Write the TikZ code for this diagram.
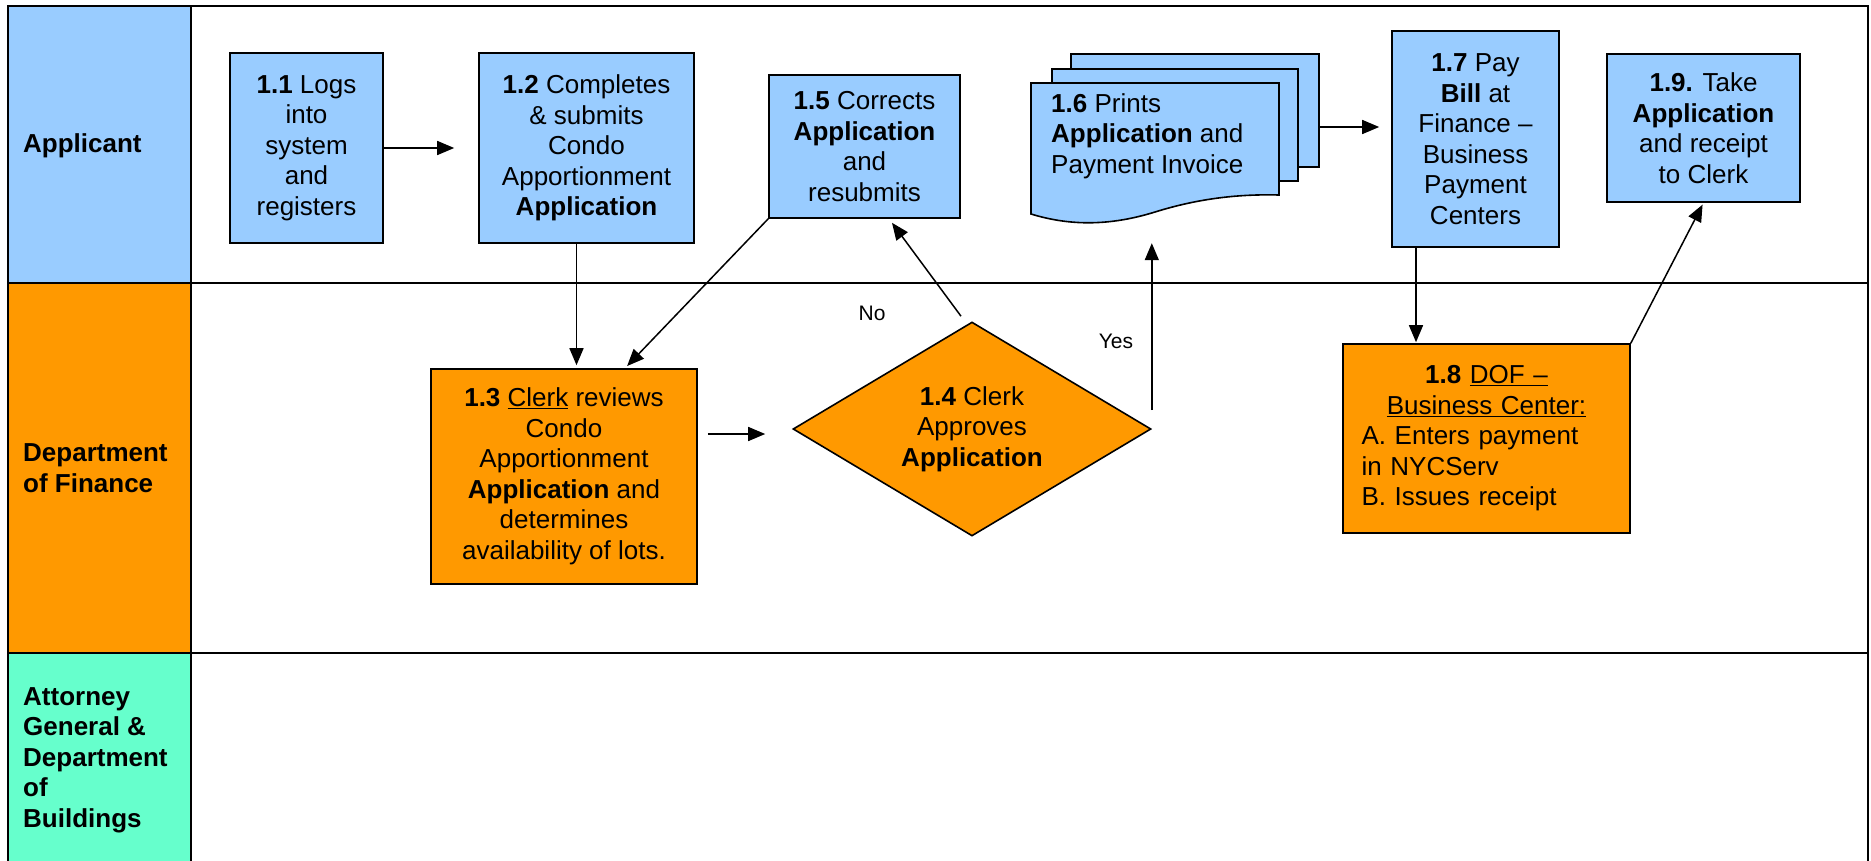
\documentclass[tikz,border=0pt]{standalone}
\usepackage{fontspec}
\setmainfont{Liberation Sans}
\usetikzlibrary{arrows.meta,shapes.geometric,calc}
\definecolor{laneblue}{HTML}{99CCFF}
\definecolor{laneorange}{HTML}{FF9900}
\definecolor{lanegreen}{HTML}{66FFCC}
\begin{document}
\begin{tikzpicture}[x=1pt,y=-1pt,
  font=\fontsize{26}{30.5}\selectfont,
  box/.style={draw=black, line width=1.6pt, fill=#1, align=center, inner sep=0pt},
  arr/.style={line width=1.5pt, -{Triangle[length=17pt,width=14pt]}},
  frame/.style={line width=2pt},
  lanelabel/.style={anchor=west, align=left, font=\fontsize{26}{30.5}\selectfont\bfseries, inner sep=0pt},
  lbl/.style={font=\fontsize{21}{25}\selectfont, inner sep=0pt}]
\useasboundingbox (0,0) rectangle (1871,860);
\clip (0,0) rectangle (1871,860);
% lanes
\fill[white] (0,0) rectangle (1871,860);
\fill[laneblue] (8,6) rectangle (191,283);
\fill[laneorange] (8,283) rectangle (191,653);
\fill[lanegreen] (8,653) rectangle (191,867);
\draw[frame] (8,6) rectangle (1868,867);
\draw[frame] (8,283) -- (1868,283);
\draw[frame] (8,653) -- (1868,653);
\draw[frame] (191,6) -- (191,867);
\node[lanelabel] (l1) at (23,146) {Applicant};
\node[lanelabel] (l2) at (23,468) {Department\\of Finance};
\node[lanelabel] (l3) at (23,760) {Attorney\\General \&\\Department\\of\\Buildings};
% process boxes
\node[box=laneblue, minimum width=153pt, minimum height=190pt] (n11) at (306.5,148) {\textbf{1.1} Logs\\into\\system\\and\\registers};
\node[box=laneblue, minimum width=215pt, minimum height=190pt] (n12) at (586.5,148) {\textbf{1.2} Completes\\\& submits\\Condo\\Apportionment\\\textbf{Application}};
\node[box=laneorange, minimum width=266pt, minimum height=215pt] (n13) at (564,476.5) {\textbf{1.3} \underline{Clerk} reviews\\Condo\\Apportionment\\\textbf{Application} and\\determines\\availability of lots.};
\node[diamond, draw=black, line width=1.6pt, fill=laneorange, minimum width=358pt, minimum height=214pt, inner sep=0pt, aspect=1.67, align=center] (n14) at (972,429) {\textbf{1.4} Clerk\\Approves\\\textbf{Application}};
\node[box=laneblue, minimum width=191pt, minimum height=143pt] (n15) at (864.5,146.5) {\textbf{1.5} Corrects\\\textbf{Application}\\and\\resubmits};
% 1.6 multi-document
\node[draw=black, line width=1.6pt, fill=laneblue, minimum width=248pt, minimum height=113pt, inner sep=0pt] (n16back) at (1195,110.5) {};
\node[draw=black, line width=1.6pt, fill=laneblue, minimum width=246pt, minimum height=112pt, inner sep=0pt] (n16mid) at (1175,125) {};
\node[inner sep=0pt, minimum width=248pt, minimum height=131pt] (n16) at (1155,148.5) {};
\draw[line width=1.6pt, fill=laneblue] (1031,83) -- (1279,83) -- (1279,195)
  .. controls (1240,194) and (1200,198) .. (1155,212)
  .. controls (1110,226) and (1070,226) .. (1031,214) -- cycle;
\node[anchor=west, align=left, inner sep=0pt] (n16t) at (1051,136) {\textbf{1.6} Prints\\\textbf{Application} and\\Payment Invoice};
\node[box=laneblue, minimum width=167pt, minimum height=216pt] (n17) at (1475.5,139) {\textbf{1.7} Pay\\\textbf{Bill} at\\Finance –\\Business\\Payment\\Centers};
\node[box=laneorange, minimum width=287pt, minimum height=189pt, text width=250pt, align=left] (n18) at (1486.5,438.5) {{\centering\textbf{1.8} \underline{DOF –}\\\underline{Business Center:}\par}A. Enters payment\\in NYCServ\\B. Issues receipt};
\node[box=laneblue, minimum width=193pt, minimum height=148pt] (n19) at (1703.5,128) {\textbf{1.9.} Take\\\textbf{Application}\\and receipt\\to Clerk};
% connectors
\draw[arr, shorten >=24pt] (n11.east) -- (n12.west);
\draw[arr, shorten >=3pt] ($(n12.south)+(-10,0)$) -- ($(n13.north)+(12.5,0)$);
\draw[arr, shorten >=3pt] (n15.south west) -- ($(n13.north)+(61,0)$);
\draw[arr, shorten <=10pt, shorten >=27pt] (n13.east |- 0,434) -- (n14.west |- 0,434);
\draw[arr] ($(n14.north)+(-11,-5)$) -- ($(n15.south)+(27.5,4)$);
\draw[arr, shorten >=29pt] ($(n14.east)+(0,-19)$) -- (n14.east |- n16.south);
\draw[arr, shorten >=12pt] (n16back.east |- 0,127) -- (n17.west |- 0,127);
\draw[arr, shorten >=1pt] ($(n17.south)+(-59.5,0)$) -- ($(n18.north)+(-70.5,0)$);
\draw[arr, shorten >=2pt] (n18.north east) -- (n19.south);
\node[lbl] (no) at (872,313) {No};
\node[lbl] (yes) at (1116,341) {Yes};
\end{tikzpicture}
\end{document}
